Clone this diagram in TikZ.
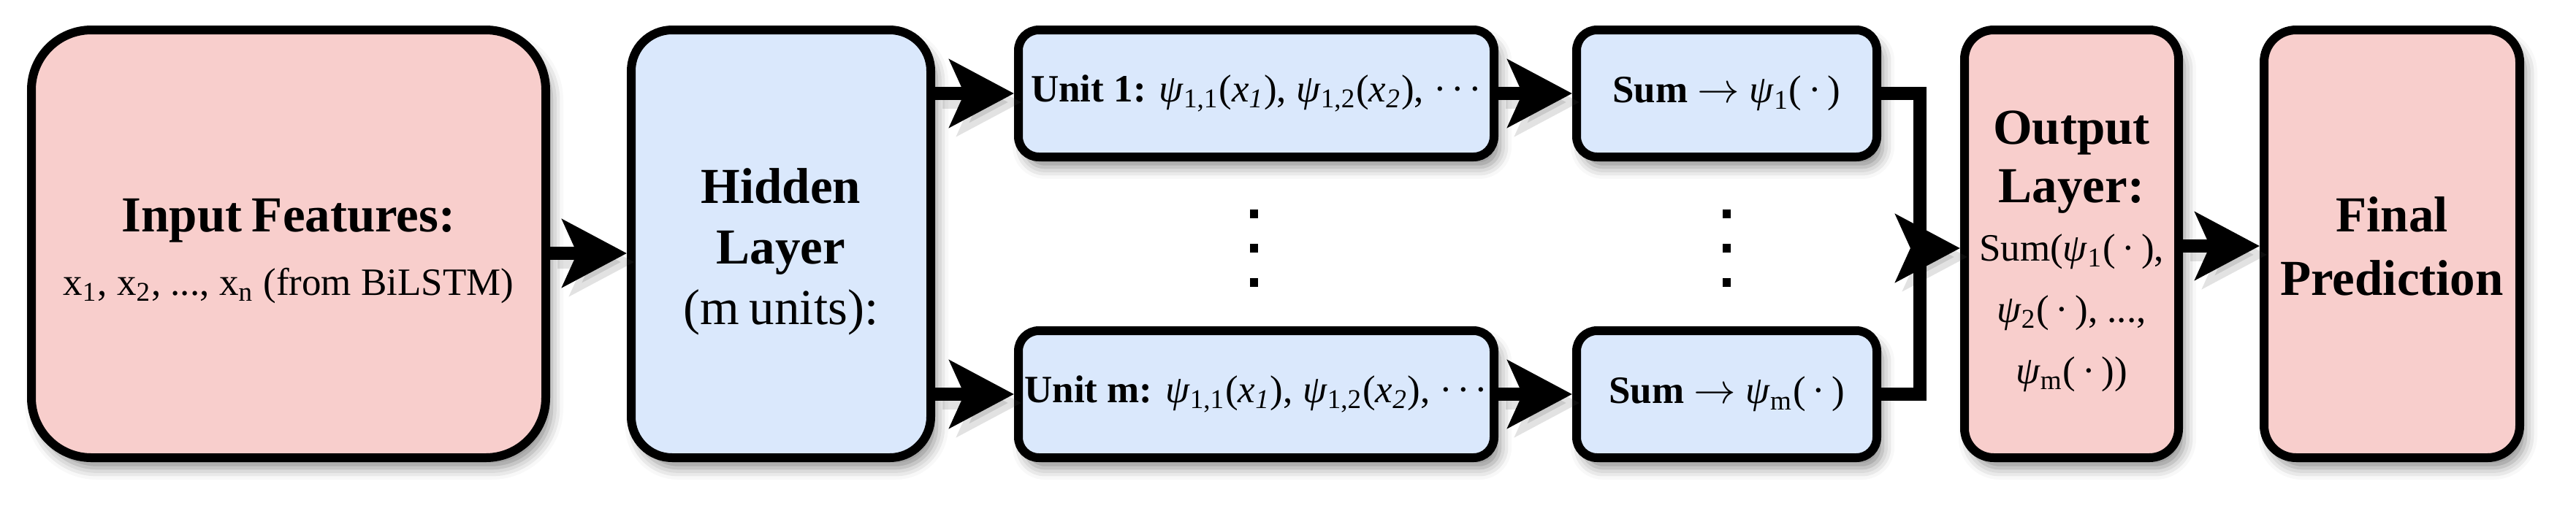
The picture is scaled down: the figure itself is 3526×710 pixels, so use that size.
\documentclass[tikz,border=0pt]{standalone}
\usepackage{fontspec}
\setmainfont{Liberation Serif}
\usetikzlibrary{arrows.meta,shadows.blur}
\definecolor{pinkfill}{HTML}{F8CECC}
\definecolor{bluefill}{HTML}{DAE8FC}
\lineskiplimit=-30pt\relax
\newcommand{\ttlf}[1]{\fontsize{17.25}{#1}\selectfont\bfseries}
\newcommand{\sbtf}[1]{\fontsize{13.25}{#1}\selectfont\mdseries}
\newcommand{\sbt}{\fontsize{13.25}{16}\selectfont\mdseries}
\newcommand{\psii}{\textit{ψ}}
\newcommand{\cdts}{·\kern0.12em·\kern0.12em·}
\newcommand{\rarr}{$\rightarrow$}
\newcommand{\topst}[1]{\rule{0pt}{#1}}
\newcommand{\botst}{\rule[-5pt]{0pt}{5pt}}
\begin{document}
\begin{tikzpicture}[x=0.25pt,y=-0.25pt,
  box/.style={draw=black, line width=3pt, rectangle, inner sep=0pt, align=center,
    blur shadow={shadow xshift=2pt, shadow yshift=-3.5pt, shadow blur radius=4pt, shadow opacity=45}},
  pinkbox/.style={box, fill=pinkfill},
  bluebox/.style={box, fill=bluefill},
  bigbox/.style={minimum height=146.5pt},
  unitbox/.style={bluebox, minimum width=162.75pt, minimum height=43.5pt, rounded corners=7pt},
  sumbox/.style={bluebox, minimum width=102.75pt, minimum height=43.5pt, rounded corners=7pt},
  arr/.style={line width=4.5pt, -{Stealth[length=22pt, width=23pt, inset=5pt]}},
  arrshade/.style={arr, draw=black!70, opacity=0.16, transform canvas={shift={(2.5pt,-3pt)}}},
  link/.style={line width=4.5pt, line join=miter},
  vdot/.style={fill=black}
]
\useasboundingbox (0,0) rectangle (3526,710);

\node[pinkbox, bigbox, minimum width=176pt, text width=170pt, rounded corners=20.5pt] (inp) at (395,334)
  {\ttlf{20}\topst{18.25pt}Input Features:\par
   \sbtf{21.75}x\textsubscript{1}, x\textsubscript{2}, ..., x\textsubscript{n} (from BiLSTM)\botst\par};
\node[bluebox, bigbox, minimum width=102.5pt, text width=98pt, rounded corners=14pt] (hid) at (1069,334)
  {\ttlf{20.75}\topst{18.5pt}Hidden\par Layer\par \mdseries (m units):\botst\par};
\node[unitbox] (u1) at (1719.5,128)
  {\sbt\textbf{Unit 1:} \psii\textsubscript{1,1}(\textit{x}\textsubscript{\textit{1}}), \psii\textsubscript{1,2}(\textit{x}\textsubscript{\textit{2}}), \cdts};
\node[unitbox] (um) at (1719.5,540)
  {\sbt\textbf{Unit m:} \psii\textsubscript{1,1}(\textit{x}\textsubscript{\textit{1}}), \psii\textsubscript{1,2}(\textit{x}\textsubscript{\textit{2}}), \cdts};
\node[sumbox] (s1) at (2363.5,128)
  {\sbt\textbf{Sum} \rarr{} \psii\textsubscript{1}(\,·\,)};
\node[sumbox] (sm) at (2363.5,540)
  {\sbt\textbf{Sum} \rarr{} \psii\textsubscript{m}(\,·\,)};
\node[pinkbox, bigbox, minimum width=73.25pt, text width=70pt, rounded corners=10pt] (out) at (2835.5,334)
  {\ttlf{20}\topst{18.5pt}Output\par Layer:\par
   \sbtf{20}Sum(\psii\textsubscript{1}(\,·\,),\par
   \sbtf{21}\psii\textsubscript{2}(\,·\,), ...,\par
   \psii\textsubscript{m}(\,·\,))\botst\par};
\node[pinkbox, bigbox, minimum width=87.5pt, text width=84pt, rounded corners=11pt] (fin) at (3274,334)
  {\ttlf{21.75}\topst{18.25pt}Final\par Prediction\botst\par};

\coordinate (r1) at (0,347);
\coordinate (r2) at (0,337);
\coordinate (mg) at (2628,340);

\draw[arrshade] (inp.east |- r1) -- (hid.west |- r1);
\draw[arrshade] (hid.east |- u1.west) -- (u1.west);
\draw[arrshade] (hid.east |- um.west) -- (um.west);
\draw[arrshade] (u1.east) -- (s1.west);
\draw[arrshade] (um.east) -- (sm.west);
\draw[arrshade] (mg) -- (out.west |- mg);
\draw[arrshade] (out.east |- r2) -- (fin.west |- r2);

\draw[arr] (inp.east |- r1) -- (hid.west |- r1);
\draw[arr] (hid.east |- u1.west) -- (u1.west);
\draw[arr] (hid.east |- um.west) -- (um.west);
\draw[arr] (u1.east) -- (s1.west);
\draw[arr] (um.east) -- (sm.west);
\draw[link] (s1.east) -| (mg) |- (sm.east);
\draw[arr] (mg) -- (out.west |- mg);
\draw[arr] (out.east |- r2) -- (fin.west |- r2);

\foreach \cx in {1716,2363}{
  \foreach \cy in {293,340,387}{
    \fill[vdot] (\cx-5.5,\cy-6) rectangle (\cx+5.5,\cy+6);
  }
}
\end{tikzpicture}
\end{document}
